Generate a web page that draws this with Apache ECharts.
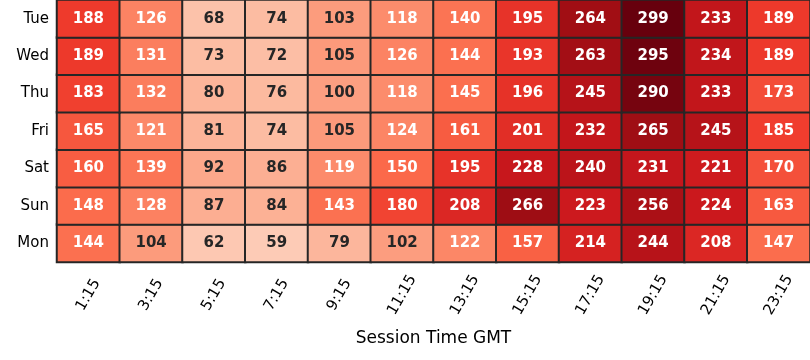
<!doctype html>
<html>
<head>
  <meta charset="UTF-8">
  <title>Session heatmap</title>
  <script src="https://cdn.jsdelivr.net/npm/echarts@6/dist/echarts.min.js"></script>
  <style>
    html, body { margin: 0; padding: 0; background: #fff; }
  </style>
</head>
<body>
  <div id="chart" style="width: 810px; height: 360px;"></div>
  <script>
    var hours = ['1:15', '3:15', '5:15', '7:15', '9:15', '11:15', '13:15', '15:15', '17:15', '19:15', '21:15', '23:15'];
    // bottom to top
    var days = ['Mon', 'Sun', 'Sat', 'Fri', 'Thu', 'Wed', 'Tue'];

    var tue = [188, 126, 68, 74, 103, 118, 140, 195, 264, 299, 233, 189];
    var wed = [189, 131, 73, 72, 105, 126, 144, 193, 263, 295, 234, 189];
    var thu = [183, 132, 80, 76, 100, 118, 145, 196, 245, 290, 233, 173];
    var fri = [165, 121, 81, 74, 105, 124, 161, 201, 232, 265, 245, 185];
    var sat = [160, 139, 92, 86, 119, 150, 195, 228, 240, 231, 221, 170];
    var sun = [148, 128, 87, 84, 143, 180, 208, 266, 223, 256, 224, 163];
    var mon = [144, 104, 62, 59, 79, 102, 122, 157, 214, 244, 208, 147];

    var rows = [mon, sun, sat, fri, thu, wed, tue];
    var reds = ['#fff5f0', '#fee0d2', '#fcbba1', '#fc9272', '#fb6a4a', '#ef3b2c', '#cb181d', '#a50f15', '#67000d'];

    var data = [];
    rows.forEach(function (row, y) {
      row.forEach(function (v, x) {
        data.push({
          value: [x, y, v],
          label: { color: v > 110 ? '#ffffff' : '#262626' }
        });
      });
    });

    var myChart = echarts.init(document.getElementById('chart'));
    var font = 'DejaVu Sans';

    myChart.setOption({
      animation: false,
      textStyle: { fontFamily: font },
      grid: { left: 57, right: 0, top: 0, bottom: 98 },
      xAxis: {
        type: 'category',
        data: hours,
        name: 'Session Time GMT',
        nameLocation: 'middle',
        nameGap: 68,
        nameTextStyle: { fontSize: 17, color: '#000', fontFamily: font },
        axisLine: { show: false },
        axisTick: { alignWithLabel: true, length: 4, lineStyle: { color: '#000' } },
        axisLabel: {
          rotate: 60,
          align: 'center',
          verticalAlign: 'middle',
          margin: 33,
          fontSize: 15,
          color: '#000',
          fontFamily: font,
          // centre the rotated labels under the ticks, top edges level
          formatter: function (v) { return v.length < 5 ? '{s|' + v + '}' : '{l|' + v + '}'; },
          rich: {
            s: { fontSize: 15, fontFamily: font, color: '#000', padding: [0, 5, 0, 5] },
            l: { fontSize: 15, fontFamily: font, color: '#000' }
          }
        },
        splitArea: { show: false }
      },
      yAxis: {
        type: 'category',
        data: days,
        axisLine: { show: false },
        axisTick: { alignWithLabel: true, length: 4, lineStyle: { color: '#000' } },
        axisLabel: { fontSize: 15, color: '#000', margin: 8, fontFamily: font }
      },
      visualMap: {
        show: false,
        min: 0,
        max: 299,
        dimension: 2,
        inRange: { color: reds }
      },
      series: [{
        type: 'heatmap',
        data: data,
        label: {
          show: true,
          fontSize: 15,
          fontWeight: 'bold',
          fontFamily: font
        },
        itemStyle: { borderColor: '#262626', borderWidth: 2 },
        emphasis: { disabled: true }
      }]
    });
  </script>
</body>
</html>
